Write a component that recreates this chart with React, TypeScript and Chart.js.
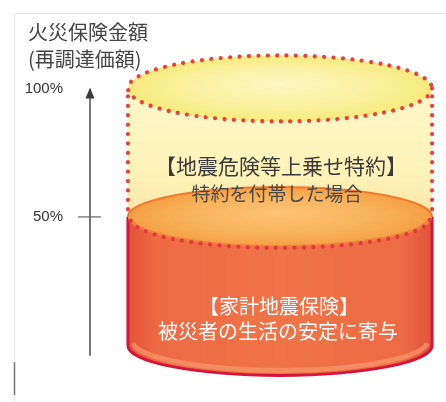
import { useEffect, useRef } from 'react';
import { Chart, registerables } from 'chart.js';

Chart.register(...registerables);

// ---- data ----
const axisTitle = ['火災保険金額', '(再調達価額)'];
const tickValues = [50, 100];
const tickLabels = ['50%', '100%'];
const sectionFrom = [0, 50];
const sectionTo = [50, 100];
const sectionTitles = ['【家計地震保険】', '【地震危険等上乗せ特約】'];
const sectionNotes = ['被災者の生活の安定に寄与', '特約を付帯した場合'];

const CJK = '"Noto Sans CJK JP", "Noto Sans", sans-serif';

function ellipticalGradient(ctx: CanvasRenderingContext2D, cx: number, cy: number, rx: number, ry: number, stops: [number, string][]) {
  ctx.save();
  ctx.translate(cx, cy);
  ctx.scale(1, ry / rx);
  const g = ctx.createRadialGradient(0, -rx * 0.15, 0, 0, 0, rx);
  stops.forEach(([o, c]) => g.addColorStop(o, c));
  ctx.beginPath();
  ctx.arc(0, 0, rx, 0, Math.PI * 2);
  ctx.fillStyle = g;
  ctx.fill();
  ctx.restore();
}

function dotted(ctx: CanvasRenderingContext2D, color: string) {
  ctx.save();
  ctx.setLineDash([0.1, 9.3]);
  ctx.lineCap = 'round';
  ctx.lineWidth = 4.2;
  ctx.strokeStyle = color;
  ctx.stroke();
  ctx.restore();
}

const cylinderPlugin = {
  id: 'cylinder',
  beforeDraw(chart: any) {
    const { ctx } = chart;
    ctx.save();
    ctx.fillStyle = '#ffffff';
    ctx.fillRect(0, 0, chart.width, chart.height);
    // faint scan frame
    ctx.strokeStyle = '#e6e6e6';
    ctx.lineWidth = 1;
    ctx.beginPath();
    ctx.moveTo(14.5, 13.5);
    ctx.lineTo(14.5, chart.height);
    ctx.moveTo(14.5, 13.5);
    ctx.lineTo(chart.width, 13.5);
    ctx.stroke();
    ctx.strokeStyle = '#777';
    ctx.lineWidth = 1.5;
    ctx.beginPath();
    ctx.moveTo(14.5, 362);
    ctx.lineTo(14.5, 395);
    ctx.stroke();
    // axis title
    ctx.fillStyle = '#444';
    ctx.font = `20px ${CJK}`;
    ctx.textAlign = 'left';
    ctx.textBaseline = 'middle';
    axisTitle.forEach((t, i) => ctx.fillText(t, 28, 32.5 + i * 27));
    ctx.restore();
  },
  afterDraw(chart: any) {
    const { ctx, chartArea } = chart;
    const x = chart.scales.x;
    const y = chart.scales.y;
    const L = x.getPixelForValue(0.109);
    const R = x.getPixelForValue(0.983);
    const cx = (L + R) / 2;
    const rx = (R - L) / 2;
    const yBase = y.getPixelForValue(sectionFrom[0]);
    const yMid = y.getPixelForValue(sectionTo[0]);
    const yTop = y.getPixelForValue(sectionTo[1]);
    const ryTop = 33;
    const ryMid = 30;
    const ryBase = 30;

    ctx.save();

    // ---- axis arrow ----
    const ax = chartArea.left;
    ctx.strokeStyle = '#4a4a4a';
    ctx.fillStyle = '#3a3a3a';
    ctx.lineWidth = 1.5;
    ctx.beginPath();
    ctx.moveTo(ax, y.getPixelForValue(-4));
    ctx.lineTo(ax, yTop + 8);
    ctx.stroke();
    ctx.beginPath();
    ctx.moveTo(ax, yTop - 1);
    ctx.lineTo(ax - 4.5, yTop + 10);
    ctx.lineTo(ax + 4.5, yTop + 10);
    ctx.closePath();
    ctx.fill();
    tickValues.forEach((v) => {
      if (v === 100) return;
      const py = y.getPixelForValue(v);
      ctx.strokeStyle = '#666';
      ctx.lineWidth = 1.2;
      ctx.beginPath();
      ctx.moveTo(ax - 12, py);
      ctx.lineTo(ax + 11, py);
      ctx.stroke();
    });

    // ---- upper section body (rider) ----
    const ug = ctx.createLinearGradient(0, yTop, 0, yMid);
    ug.addColorStop(0, '#fdf8c8');
    ug.addColorStop(0.7, '#fef2b8');
    ug.addColorStop(1, '#fde4a4');
    ctx.fillStyle = ug;
    ctx.fillRect(L, yTop, R - L, yMid - yTop);

    // top face
    ellipticalGradient(ctx, cx, yTop, rx, ryTop, [
      [0, '#fcf7c4'],
      [0.55, '#faf2a4'],
      [1, '#f6ea7c'],
    ]);

    // ---- lower section body (household earthquake insurance) ----
    const lg = ctx.createLinearGradient(L, 0, R, 0);
    lg.addColorStop(0, '#e4533a');
    lg.addColorStop(0.1, '#ee6a43');
    lg.addColorStop(0.5, '#f07447');
    lg.addColorStop(0.9, '#ee6a43');
    lg.addColorStop(1, '#e4533a');
    ctx.beginPath();
    ctx.moveTo(L, yMid);
    ctx.lineTo(L, yBase);
    ctx.ellipse(cx, yBase, rx, ryBase, 0, Math.PI, 0, true);
    ctx.lineTo(R, yMid);
    ctx.closePath();
    ctx.fillStyle = lg;
    ctx.fill();

    // bottom rim highlight
    ctx.beginPath();
    ctx.ellipse(cx, yBase - 5, rx - 4, ryBase, 0, Math.PI * 0.97, Math.PI * 0.03, true);
    ctx.strokeStyle = 'rgba(247,150,105,0.75)';
    ctx.lineWidth = 5;
    ctx.stroke();

    // red outline
    ctx.beginPath();
    ctx.moveTo(L, yMid);
    ctx.lineTo(L, yBase);
    ctx.ellipse(cx, yBase, rx, ryBase, 0, Math.PI, 0, true);
    ctx.lineTo(R, yMid);
    ctx.strokeStyle = '#d4163c';
    ctx.lineWidth = 3;
    ctx.stroke();

    // middle face
    ellipticalGradient(ctx, cx, yMid, rx, ryMid, [
      [0, '#fbc476'],
      [0.6, '#f9b35c'],
      [1, '#f59f45'],
    ]);
    ctx.beginPath();
    ctx.ellipse(cx, yMid, rx, ryMid, 0, Math.PI, Math.PI * 2, false);
    ctx.strokeStyle = '#ee7a2e';
    ctx.lineWidth = 2;
    ctx.stroke();
    ctx.beginPath();
    ctx.ellipse(cx, yMid, rx - 2, ryMid, 0, Math.PI * 0.03, Math.PI * 0.97, false);
    ctx.strokeStyle = 'rgba(238,110,60,0.6)';
    ctx.lineWidth = 4;
    ctx.stroke();
    ctx.beginPath();
    ctx.ellipse(cx, yMid + 1, rx - 2, ryMid, 0, Math.PI * 0.02, Math.PI * 0.98, false);
    dotted(ctx, '#e23a3c');

    // ---- dotted outline of the rider ----
    ctx.beginPath();
    ctx.ellipse(cx, yTop, rx, ryTop, 0, 0, Math.PI * 2);
    dotted(ctx, '#e8403f');
    ctx.beginPath();
    ctx.moveTo(L, yTop + 8);
    ctx.lineTo(L, yMid);
    dotted(ctx, '#e8403f');
    ctx.beginPath();
    ctx.moveTo(R, yTop + 8);
    ctx.lineTo(R, yMid);
    dotted(ctx, '#e8403f');

    // ---- texts ----
    ctx.textAlign = 'center';
    ctx.textBaseline = 'middle';
    const span = (i: number, f: number) => y.getPixelForValue(sectionFrom[i] + (sectionTo[i] - sectionFrom[i]) * f);
    ctx.fillStyle = '#3a3a3a';
    ctx.font = `21px ${CJK}`;
    ctx.fillText(sectionTitles[1], cx + 1, span(1, 0.4));
    ctx.fillStyle = '#4a4a4a';
    ctx.font = `19px ${CJK}`;
    ctx.fillText(sectionNotes[1], cx - 3, span(1, 0.18));
    ctx.fillStyle = '#ffffff';
    ctx.font = `20px ${CJK}`;
    ctx.fillText(sectionTitles[0], cx - 1, span(0, 0.3));
    ctx.fillText(sectionNotes[0], cx - 2, span(0, 0.11));

    ctx.restore();
  },
};

export default function App() {
  const ref = useRef<HTMLCanvasElement>(null);
  useEffect(() => {
    const chart = new Chart(ref.current as HTMLCanvasElement, {
      type: 'scatter',
      data: { datasets: [] },
      options: {
        responsive: false,
        animation: false,
        devicePixelRatio: 1,
        layout: { padding: { left: 8, right: 8, top: 73, bottom: 24 } },
        plugins: {
          legend: { display: false },
          tooltip: { enabled: false },
          title: { display: false },
        },
        scales: {
          x: { type: 'linear', display: false, min: 0, max: 1 },
          y: {
            type: 'linear',
            position: 'left',
            min: -8,
            max: 106,
            grid: { display: false, drawTicks: false },
            border: { display: false },
            afterBuildTicks: (s: any) => {
              s.ticks = tickValues.map((v) => ({ value: v }));
            },
            afterFit: (s: any) => {
              s.width = 82;
            },
            ticks: {
              padding: 27,
              color: '#333',
              font: { family: '"Liberation Sans", Arial, sans-serif', size: 15 },
              callback: (v: any) => {
                const i = tickValues.indexOf(Number(v));
                return i >= 0 ? tickLabels[i] : '';
              },
            },
          },
        },
      },
      plugins: [cylinderPlugin],
    } as any);
    return () => chart.destroy();
  }, []);
  return (
    <div style={{ position: 'absolute', left: 0, top: 0, width: 446, height: 402, background: '#fff' }}>
      <canvas ref={ref} width={446} height={402} style={{ display: 'block', width: 446, height: 402 }} />
    </div>
  );
}
